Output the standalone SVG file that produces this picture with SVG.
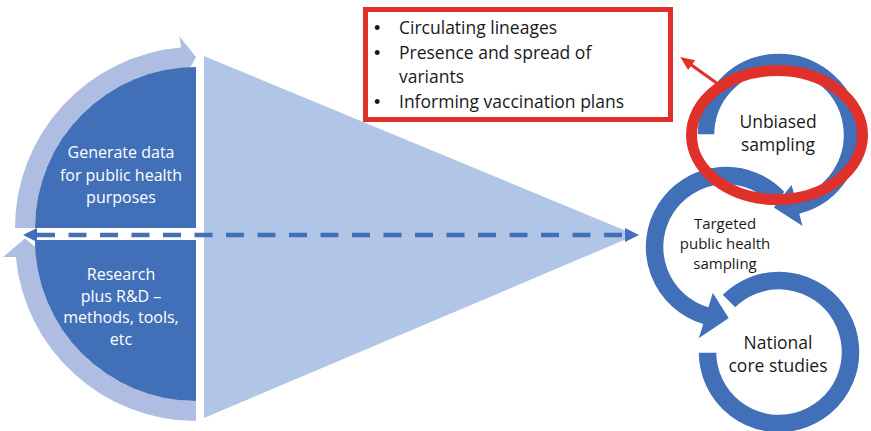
<svg xmlns="http://www.w3.org/2000/svg" width="871" height="431" viewBox="0 0 871 431">
<style>
text{font-family:"Open Sans","Noto Sans","Liberation Sans",sans-serif}
.lt{fill:#FFFFFF;font-size:16px;text-anchor:middle}
.dk{fill:#1A1A1A;text-anchor:middle}
.bx{fill:#1A1A1A;font-size:17.5px}
.bl{fill:#1A1A1A;font-size:18px;font-family:"Liberation Sans",Arial,sans-serif}
.arc{fill:#AFBDE2}
.quad{fill:#4270B8}
.ring{fill:#4270B8;stroke:#FFFFFF;stroke-width:1.5;stroke-linejoin:miter}
</style>
<defs>
<marker id="bh" markerUnits="userSpaceOnUse" markerWidth="14" markerHeight="14" viewBox="0 0 14 14" refX="0" refY="7" orient="auto-start-reverse">
<path d="M0,0 L14,7 L0,14 Z" fill="#4270B8"/>
</marker>
<marker id="rh" markerUnits="userSpaceOnUse" markerWidth="14" markerHeight="12" viewBox="0 0 14 12" refX="2" refY="6" orient="auto">
<path d="M0,0 L14,6 L0,12 Z" fill="#E0302A"/>
</marker>
</defs>

<g id="cycle-left">
<path class="arc" d="M15,228 A181,181 0 0,1 181,47.6 L179.5,36.5 L196,57 L183,80.5 L181,67.7 A161,161 0 0,0 35,228 Z"/>
<path class="arc" d="M196,421 A181,181 0 0,1 15.8,257 L3,257 L25,238.5 L48,257 L35.9,257 A161,161 0 0,0 196,401 Z"/>
</g>
<g id="generate-data">
<path class="quad" d="M196,228 L35,228 A161,161 0 0,1 196,67 Z"/>
<text class="lt" x="121" y="158">Generate data</text>
<text class="lt" x="121" y="181">for public health</text>
<text class="lt" x="121" y="203">purposes</text>
</g>
<g id="research">
<path class="quad" d="M196,240 L35,240 A161,161 0 0,0 196,401 Z"/>
<text class="lt" x="121" y="280">Research</text>
<text class="lt" x="121" y="302">plus R&amp;D –</text>
<text class="lt" x="121" y="323">methods, tools,</text>
<text class="lt" x="121" y="345">etc</text>
</g>
<g id="funnel">
<path d="M204,56 L636,235 L204,418 Z" fill="#B1C5E6"/>
</g>

<g id="outputs-box">
<rect x="365.5" y="9.5" width="305" height="110" fill="#FFFFFF" stroke="#E0302A" stroke-width="5"/>
<text class="bl" x="374" y="34">•</text>
<text class="bx" x="399" y="34">Circulating lineages</text>
<text class="bl" x="374" y="59">•</text>
<text class="bx" x="399" y="59">Presence and spread of</text>
<text class="bx" x="399" y="83">variants</text>
<text class="bl" x="374" y="108">•</text>
<text class="bx" x="399" y="108">Informing vaccination plans</text>
</g>

<g id="national-core-studies">
<path class="ring" d="M721.7,294.7 A81,81 0 1,1 698,352 L717,352 A62,62 0 1,0 735.2,308.2 Z"/>
<text class="dk" x="778" y="349" font-size="17.5">National</text>
<text class="dk" x="778" y="372" font-size="17.5">core studies</text>
</g>
<g id="targeted-sampling">
<path class="ring" d="M786.2,192.8 A81,81 0 1,0 702.3,324.5 L697.6,339.8 L729.7,318.4 L712.6,291 L707.9,306.3 A62,62 0 1,1 772.1,205.5 Z"/>
<text class="dk" x="725" y="229" font-size="15">Targeted</text>
<text class="dk" x="725" y="249" font-size="15">public health</text>
<text class="dk" x="725" y="269" font-size="15">sampling</text>
</g>
<g id="unbiased-sampling">
<path class="ring" d="M697,135 A82,82 0 1,1 800.2,214.2 L803.8,227.7 L772.6,207.7 L791.9,183.3 L795.6,196.8 A64,64 0 1,0 715,135 Z"/>
<text class="dk" x="778" y="128" font-size="17.5">Unbiased</text>
<text class="dk" x="778" y="151" font-size="17.5">sampling</text>
<ellipse cx="777" cy="135" rx="85.5" ry="64.5" fill="none" stroke="#E0302A" stroke-width="11"/>
</g>

<g id="connectors">
<path d="M37,235 L625,235" fill="none" stroke="#4270B8" stroke-width="4.5" stroke-dasharray="18 13.5" marker-start="url(#bh)" marker-end="url(#bh)"/>
<path d="M718,84 L690,64" fill="none" stroke="#E0302A" stroke-width="3" marker-end="url(#rh)"/>
</g>
</svg>
